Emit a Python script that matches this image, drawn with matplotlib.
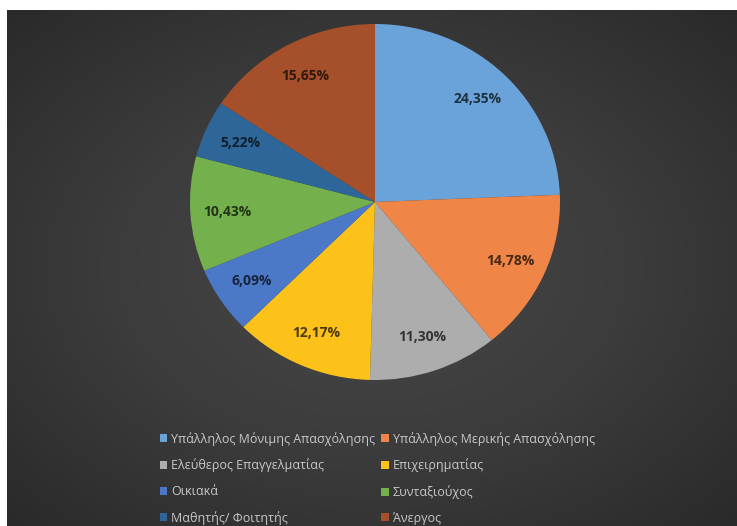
import numpy as np
import matplotlib
matplotlib.use("Agg")
import matplotlib.pyplot as plt
import matplotlib.colors as pltc

plt.rcParams['font.family'] = ['Open Sans', 'DejaVu Sans']

categories = ["Υπάλληλος Μόνιμης Απασχόλησης", "Υπάλληλος Μερικής Απασχόλησης",
              "Ελεύθερος Επαγγελματίας", "Επιχειρηματίας",
              "Οικιακά", "Συνταξιούχος",
              "Μαθητής/ Φοιτητής", "Άνεργος"]
shares = [24.35, 14.78, 11.30, 12.17, 6.09, 10.43, 5.22, 15.65]
colors = ["#6aa2da", "#ef8547", "#adadad", "#fdc21a",
          "#4c78c8", "#74b04c", "#2f6699", "#a5502a"]


def darker(c, f=0.3):
    r, g, b = pltc.to_rgb(c)
    return (r * f, g * f, b * f)


W, H = 737, 526
fig = plt.figure(figsize=(W / 100, H / 100), dpi=100, facecolor="white")

# dark panel with a soft radial gradient
bg = fig.add_axes([7 / W, 0, (W - 7) / W, (H - 10) / H])
yy, xx = np.mgrid[-1:1:300j, -1:1:400j]
rr = np.sqrt(xx ** 2 + yy ** 2) / np.sqrt(2)
cmap = pltc.LinearSegmentedColormap.from_list("bg", ["#474747", "#3c3c3c", "#2a2a2a"])
bg.imshow(rr, cmap=cmap, aspect="auto", extent=[0, 1, 0, 1], vmin=0, vmax=1)
bg.axis("off")

# pie
cx, cy, rx, ry = 375, 202, 185, 178
ax = fig.add_axes([(cx - rx) / W, (H - cy - ry) / H, 2 * rx / W, 2 * ry / H])
wedges, texts, autotexts = ax.pie(
    shares, colors=colors, startangle=90, counterclock=False,
    autopct=lambda p: f"{p:.2f}".replace(".", ",") + "%", pctdistance=0.8,
    wedgeprops=dict(linewidth=0))
for t, c in zip(autotexts, colors):
    t.set_color(darker(c))
    t.set_fontsize(10)
    t.set_fontweight("bold")
ax.set_xlim(-1, 1)
ax.set_ylim(-1, 1)
ax.set_aspect("auto")

# legend filled row by row like the original
order = [0, 2, 4, 6, 1, 3, 5, 7]
leg = fig.legend([wedges[i] for i in order], [categories[i] for i in order],
                 loc="upper center", bbox_to_anchor=(0.512, 1 - 427 / H),
                 ncol=2, frameon=False, fontsize=9, labelcolor="#c8c8c8",
                 handlelength=0.6, handleheight=0.6, handletextpad=0.3,
                 columnspacing=0.5, labelspacing=1.02, borderaxespad=0)

fig.savefig("out.png", dpi=100, facecolor="white")
